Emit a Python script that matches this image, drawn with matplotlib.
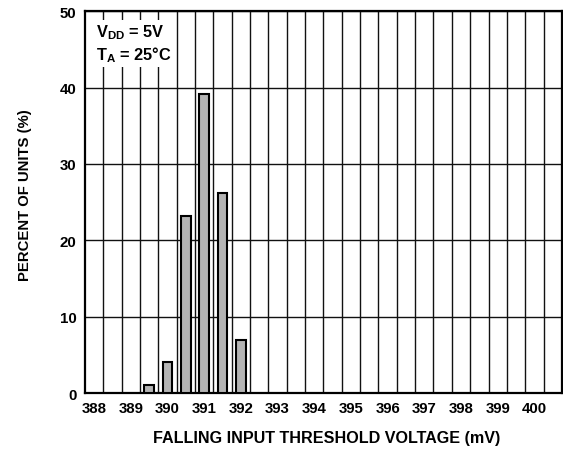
import numpy as np
import matplotlib
matplotlib.use("Agg")
import matplotlib.pyplot as plt

plt.rcParams['font.family'] = ['Liberation Sans', 'DejaVu Sans']
plt.rcParams['font.weight'] = 'bold'
plt.rcParams['mathtext.fontset'] = 'custom'
plt.rcParams['mathtext.rm'] = 'Liberation Sans:bold'
plt.rcParams['mathtext.bf'] = 'Liberation Sans:bold'
plt.rcParams['mathtext.it'] = 'Liberation Sans:bold'

# histogram data (mV bins, % of units)
voltage = [389.5, 390.0, 390.5, 391.0, 391.5, 392.0]
percent = [1.0, 4.0, 23.2, 39.2, 26.2, 7.0]
tick_vals = list(range(388, 401))
y_ticks = [0, 10, 20, 30, 40, 50]

fig = plt.figure(figsize=(5.63, 4.52), dpi=100)
ax = fig.add_axes([0.151, 0.1283, 0.847, 0.8445])

ax.bar(voltage, percent, width=0.26, color='#b4b4b4', edgecolor='black',
       linewidth=1.5, zorder=3)

ax.set_xlim(387.75, 400.75)
ax.set_ylim(0, 50)
ax.set_xticks(tick_vals)
ax.set_xticks(np.arange(388.25, 400.3, 0.5), minor=True)
ax.set_yticks(y_ticks)
ax.tick_params(which='both', length=0, labelsize=10.8, pad=6)
ax.grid(which='minor', axis='x', color='#111111', linewidth=1.0, zorder=1)
ax.grid(which='major', axis='y', color='#111111', linewidth=1.0, zorder=1)
ax.grid(which='major', axis='x', visible=False)
ax.set_axisbelow(True)
for s in ax.spines.values():
    s.set_linewidth(1.6)

ax.set_xlabel('FALLING INPUT THRESHOLD VOLTAGE (mV)', fontsize=11.6,
              fontweight='bold')
ax.xaxis.set_label_coords(0.506, -0.097)
ax.set_ylabel('PERCENT OF UNITS (%)', fontsize=10.7, fontweight='bold')
ax.yaxis.set_label_coords(-0.111, 0.521)

ax.text(0.023, 0.97, '$\\mathregular{V_{DD}}$ = 5V\n$\\mathregular{T_A}$ = 25°C',
        transform=ax.transAxes, ha='left', va='top', fontsize=11.8,
        fontweight='bold', linespacing=1.2, zorder=4,
        bbox=dict(facecolor='white', edgecolor='none', pad=2))

fig.savefig('out.png', dpi=100)
